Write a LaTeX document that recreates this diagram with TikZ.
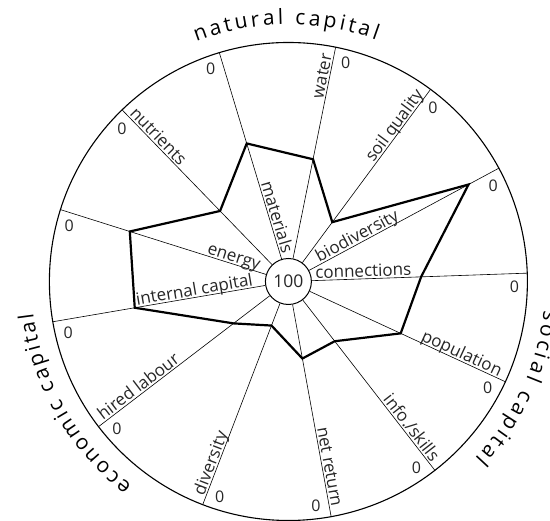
\documentclass[tikz,border=0pt]{standalone}
\usepackage{fontspec}
\setmainfont{Open Sans}
\usetikzlibrary{calc,decorations.text}
\newcommand\ttlfont{\fontsize{21}{24}\selectfont}
\begin{document}
\begin{tikzpicture}[x=1pt,y=1pt,
  spoke/.style={line width=0.6pt},
  rim/.style={line width=1.1pt},
  profile/.style={line width=2.2pt, line join=miter},
  lbl/.style={font=\fontsize{17}{19}\selectfont, text=black!85, inner sep=0pt},
  zero/.style={font=\fontsize{16}{18}\selectfont, text=black!85, inner sep=0pt},
  title/.style={decorate, decoration={text along path, text align={fit to path},
     text={|\ttlfont|#1}}},
]
\useasboundingbox (0,0) rectangle (550,521);
\coordinate (C) at (288.4,239.5);
\def\Rout{239}

% outer rim and hub
\draw[rim] (C) circle[radius=\Rout];
\node[circle, draw, line width=1pt, minimum size=46pt, inner sep=0pt,
      font=\fontsize{17.5}{19}\selectfont, text=black!85] (hub) at (C) {100};

% spokes: name / angle / score radius
\foreach \nm/\ang/\val in {con/2.0/132.8, bio/28.3/204.6, soil/53.5/73.8,
    wat/78.6/124.7, mat/106.8/144.2, nut/134.1/98.2, ene/162.5/166.3,
    int/189.7/155.9, hir/217.4/69, div/249.0/47.2, net/280.3/78.3,
    inf/307.8/75.6, pop/335.2/123.7}{
  \coordinate (s-\nm) at ($(C)+(\ang:\Rout)$);
  \coordinate (p-\nm) at ($(C)+(\ang:\val)$);
  \draw[spoke] (hub) -- (s-\nm);
}

% zero marks at the rim
\foreach \nm/\ang in {con/-1.3, bio/25.0, soil/50.2, wat/75.3, mat/110.1,
    nut/137.4, ene/165.8, int/193.0, hir/220.7, div/252.3, net/277.0,
    inf/304.5, pop/331.9}{
  \node[zero] (z-\nm) at ($(C)+(\ang:226)$) {0};
}

% score profile
\draw[profile] (p-con) -- (p-bio) -- (p-soil) -- (p-wat) -- (p-mat) -- (p-nut)
  -- (p-ene) -- (p-int) -- (p-hir) -- (p-div) -- (p-net) -- (p-inf) -- (p-pop) -- cycle;

% spoke labels: name / spoke angle / text angle / distance / anchor / text
\foreach \nm/\ang/\rho/\d/\anc/\txt in {
    con/2.0/2.0/27/base west/{connections},
    bio/28.3/28.3/36/base west/{biodiversity},
    soil/53.5/53.5/231/base east/{soil quality},
    wat/78.6/78.6/231/base east/{water},
    mat/106.8/-73.2/28/base east/{materials},
    nut/134.1/-45.9/231/base west/{nutrients},
    ene/162.5/-17.5/32/base east/{energy},
    int/189.7/9.7/35/base east/{internal capital},
    hir/217.4/37.4/232/base west/{hired labour},
    div/249.0/69.0/231/base west/{diversity},
    net/280.3/-79.7/230/base east/{net return},
    inf/307.8/-52.2/231/base east/{info./skills},
    pop/335.2/-24.8/231/base east/{population}}{
  \node[lbl, rotate=\rho, anchor=\anc] (l-\nm) at ($(C)+(\ang:\d)+(\rho+90:2)$) {\txt};
}

% capital titles around the rim
\path[title={natural capital}] ($(C)+(111:257)$) arc[start angle=111, end angle=70, radius=257];
\path[title={social capital}] ($(C)+(-6.5:257)$) arc[start angle=-6.5, end angle=-43.5, radius=257];
\path[title={economic capital}] ($(C)+(232.5:257)$) arc[start angle=232.5, end angle=187, radius=257];
\end{tikzpicture}
\end{document}
